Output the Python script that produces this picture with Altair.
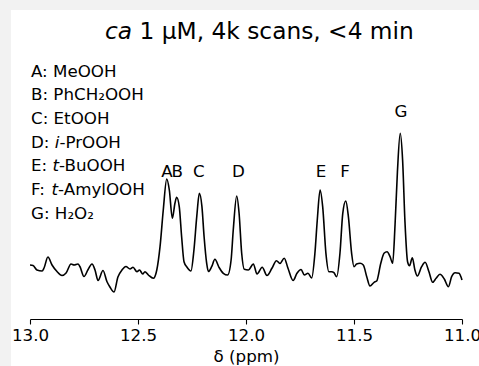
import altair as alt
import pandas as pd

# ---------------- data ----------------
ppm = [13.000, 12.986, 12.968, 12.944, 12.935, 12.917, 12.898, 12.875, 12.852, 12.833,
       12.810, 12.796, 12.778, 12.769, 12.750, 12.731, 12.713, 12.699, 12.685, 12.662,
       12.644, 12.630, 12.611, 12.593, 12.574, 12.556, 12.537, 12.523, 12.505, 12.493,
       12.478, 12.468, 12.452, 12.429, 12.413, 12.398, 12.383, 12.367, 12.355, 12.341,
       12.329, 12.321, 12.309, 12.298, 12.287, 12.273, 12.255, 12.241, 12.228, 12.216,
       12.204, 12.194, 12.182, 12.174, 12.159, 12.144, 12.125, 12.105, 12.085, 12.069,
       12.059, 12.043, 12.032, 12.020, 12.008, 11.989, 11.966, 11.949, 11.925, 11.903,
       11.880, 11.859, 11.843, 11.823, 11.806, 11.782, 11.764, 11.745, 11.730, 11.713,
       11.696, 11.681, 11.670, 11.657, 11.645, 11.630, 11.616, 11.603, 11.593, 11.580,
       11.565, 11.552, 11.538, 11.526, 11.511, 11.500, 11.488, 11.472, 11.457, 11.441,
       11.426, 11.407, 11.395, 11.376, 11.361, 11.347, 11.333, 11.321, 11.310, 11.299,
       11.286, 11.275, 11.264, 11.252, 11.243, 11.230, 11.218, 11.207, 11.187, 11.171,
       11.153, 11.136, 11.120, 11.102, 11.082, 11.063, 11.048, 11.032, 11.014, 11.000]

intensity = [0.050, 0.045, 0.000, -0.010, 0.020, 0.130, 0.050, -0.015, -0.055, -0.030,
             0.060, 0.050, 0.060, 0.035, -0.065, 0.005, 0.060, 0.000, -0.105, -0.005,
             -0.115, -0.170, -0.220, -0.070, 0.000, 0.035, 0.010, 0.027, -0.017, 0.000,
             -0.040, -0.017, -0.050, -0.083, 0.000, 0.233, 0.600, 0.910, 0.800, 0.517,
             0.667, 0.727, 0.633, 0.333, 0.083, 0.027, -0.010, 0.200, 0.533, 0.767,
             0.633, 0.333, 0.067, -0.015, 0.033, 0.107, 0.027, -0.033, -0.050, 0.100,
             0.400, 0.740, 0.567, 0.167, 0.007, 0.000, 0.060, -0.040, 0.027, -0.055,
             0.017, 0.093, 0.065, 0.118, 0.020, -0.105, -0.033, 0.005, -0.050, -0.033,
             -0.080, 0.167, 0.500, 0.800, 0.633, 0.167, -0.017, -0.017, -0.027, -0.067,
             0.167, 0.567, 0.690, 0.533, 0.167, 0.033, 0.060, 0.067, 0.050, -0.067,
             -0.160, -0.123, -0.110, 0.067, 0.167, 0.183, 0.133, 0.067, 0.450, 0.980,
             1.367, 1.100, 0.480, 0.083, 0.043, 0.123, 0.000, -0.060, 0.033, 0.077,
             -0.017, -0.123, -0.083, -0.043, -0.090, -0.167, -0.067, -0.027, -0.033, -0.100]

peak_labels = ["A", "B", "C", "D", "E", "F", "G"]
peak_ppm = [12.366, 12.319, 12.218, 12.035, 11.653, 11.542, 11.283]
peak_label_height = [0.93, 0.93, 0.93, 0.93, 0.93, 0.93, 1.527]

x_ticks = [13.0, 12.5, 12.0, 11.5, 11.0]

legend_lines = [
    [("A: MeOOH", False)],
    [("B: PhCH\u2082OOH", False)],
    [("C: EtOOH", False)],
    [("D: ", False), ("i", True), ("-PrOOH", False)],
    [("E: ", False), ("t", True), ("-BuOOH", False)],
    [("F: ", False), ("t", True), ("-AmylOOH", False)],
    [("G: H\u2082O\u2082", False)],
]
title_parts = [("ca", True), (" ", False), ("1 \u00b5M, 4k scans, <4 min", False)]

# ---------------- layout ----------------
LEFT, TOP, W, H = 30, 60, 432, 259
RIGHT, BOTTOM = 479 - LEFT - W, 366 - TOP - H
FONT = "DejaVu Sans"
FS = 16.7
TITLE_FS = 23.3
BLACK = "#000000"

# DejaVu Sans advance widths (em)
WID = {" ": .318, ":": .337, "-": .361, "A": .684, "B": .686, "C": .698, "D": .770,
       "E": .632, "F": .575, "G": .775, "H": .752, "M": .863, "O": .787, "P": .603,
       "a": .613, "c": .550, "e": .615, "h": .634, "i": .278, "k": .579, "l": .278,
       "m": .974, "n": .634, "r": .411, "s": .521, "t": .392, "u": .634, "y": .592,
       "\u2082": .406, "\u00b5": .636, "<": .838, ",": .318, ".": .318}


def text_width(s, size):
    return sum(WID.get(ch, .636) for ch in s) * size


def pieces(parts, x0, y0, size):
    rows, x = [], x0
    for txt, ital in parts:
        if txt.strip():
            rows.append({"t": txt, "italic": ital, "px": x, "py": y0})
        x += text_width(txt, size)
    return rows


legend_rows = []
for i, parts in enumerate(legend_lines):
    legend_rows += pieces(parts, 1.0, 16.6 + 23.7 * i, FS)
title_rows = pieces(title_parts, 75.0, -21.0, TITLE_FS)

spec_df = pd.DataFrame({"ppm": ppm, "intensity": intensity})
peak_df = pd.DataFrame({"label": peak_labels, "ppm": peak_ppm, "h": peak_label_height})
legend_df = pd.DataFrame(legend_rows)
title_df = pd.DataFrame(title_rows)

xscale = alt.Scale(domain=[11.0, 13.0], reverse=True, nice=False, zero=False)
yscale = alt.Scale(domain=[-0.49, 2.10], nice=False, zero=False)

background = alt.Chart(alt.Data(values=[{"k": 1}])).mark_rect(
    color="#ffffff").encode(
    x=alt.value(11 - LEFT), x2=alt.value(479 - LEFT),
    y=alt.value(10 - TOP), y2=alt.value(366 - TOP))

line = alt.Chart(spec_df).mark_line(
    color=BLACK, strokeWidth=1.6, interpolate="monotone").encode(
    x=alt.X("ppm:Q", scale=xscale,
            axis=alt.Axis(values=x_ticks, format=".1f", title="\u03b4 (ppm)",
                          grid=False, labelFlush=False, zindex=1)),
    y=alt.Y("intensity:Q", scale=yscale, axis=None),
    order="ppm:Q")

labels = alt.Chart(peak_df).mark_text(
    font=FONT, fontSize=FS, color=BLACK, align="center", baseline="alphabetic").encode(
    x=alt.X("ppm:Q", scale=xscale),
    y=alt.Y("h:Q", scale=yscale, axis=None),
    text="label:N")


def text_layer(df, italic, size):
    sub = df[df["italic"] == italic]
    return alt.Chart(sub).mark_text(
        font=FONT, fontSize=size, color=BLACK, align="left", baseline="alphabetic",
        fontStyle="italic" if italic else "normal").encode(
        x=alt.X("px:Q", scale=None),
        y=alt.Y("py:Q", scale=None),
        text="t:N")


chart = alt.layer(
    background, line, labels,
    text_layer(legend_df, False, FS), text_layer(legend_df, True, FS),
    text_layer(title_df, False, TITLE_FS), text_layer(title_df, True, TITLE_FS),
).properties(
    width=W, height=H,
    padding={"left": LEFT, "top": TOP, "right": RIGHT, "bottom": BOTTOM},
    autosize=alt.AutoSizeParams(type="none"),
    background="#f2f2f2",
).configure_view(stroke=None).configure_axis(
    domainColor=BLACK, domainWidth=1.1, tickColor=BLACK, tickWidth=1.1, tickSize=5,
    labelFont=FONT, labelFontSize=FS, labelColor=BLACK, labelPadding=3,
    titleFont=FONT, titleFontSize=FS, titleColor=BLACK, titleFontWeight="normal",
    titlePadding=5, zindex=1,
)

chart.save("out.html", embed_options={"renderer": "svg", "actions": False})
